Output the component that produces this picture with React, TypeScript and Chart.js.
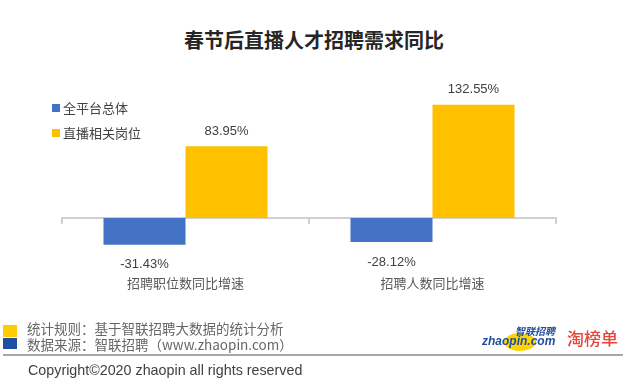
import React, { useEffect, useRef } from 'react';
import { Chart, registerables } from 'chart.js';

Chart.register(...registerables);

const titleText = '春节后直播人才招聘需求同比';
const categories = ['招聘职位数同比增速', '招聘人数同比增速'];
const seriesNames = ['全平台总体', '直播相关岗位'];
const overallValues = [-31.43, -28.12];
const liveValues = [83.95, 132.55];
const seriesColors = ['#4472C4', '#FFC000'];
const footerNotes = ['统计规则：基于智联招聘大数据的统计分析', '数据来源：智联招聘（www.zhaopin.com）'];
const footerColors = ['#FFCC00', '#1F4FA0'];
const copyrightText = 'Copyright©2020 zhaopin all rights reserved';

const valueLabelPlugin = {
  id: 'valueLabels',
  afterDatasetsDraw(chart: any) {
    const ctx = chart.ctx;
    ctx.save();
    ctx.font = '13px "Liberation Sans", Arial, sans-serif';
    ctx.fillStyle = '#404040';
    ctx.textAlign = 'center';
    ctx.textBaseline = 'middle';
    chart.data.datasets.forEach((ds: any, i: number) => {
      const meta = chart.getDatasetMeta(i);
      meta.data.forEach((el: any, j: number) => {
        const v = ds.data[j];
        const txt = v.toFixed(2) + '%';
        const y = v >= 0 ? el.y - 15 : el.y + 20;
        ctx.fillText(txt, el.x, y);
      });
    });
    ctx.restore();
  },
};

const legendPlugin = {
  id: 'insideLegend',
  afterDraw(chart: any) {
    const ctx = chart.ctx;
    ctx.save();
    ctx.font = '13px "Noto Sans CJK SC", sans-serif';
    ctx.textBaseline = 'middle';
    ctx.textAlign = 'left';
    const ys = [108, 133];
    chart.data.datasets.forEach((ds: any, i: number) => {
      const y = ys[i];
      ctx.fillStyle = ds.backgroundColor;
      ctx.fillRect(52, y - 4, 8, 8);
      ctx.fillStyle = '#404040';
      ctx.fillText(ds.label, 63, y);
    });
    ctx.restore();
  },
};

function BarChart() {
  const ref = useRef<HTMLCanvasElement | null>(null);
  useEffect(() => {
    if (!ref.current) return;
    const chart = new Chart(ref.current, {
      type: 'bar',
      data: {
        labels: categories,
        datasets: [
          { label: seriesNames[0], data: overallValues, backgroundColor: seriesColors[0] },
          { label: seriesNames[1], data: liveValues, backgroundColor: seriesColors[1] },
        ],
      },
      options: {
        animation: false,
        responsive: false,
        maintainAspectRatio: false,
        layout: { padding: { left: 62, right: 72, top: 98.3, bottom: 129.25 } },
        datasets: { bar: { categoryPercentage: 0.664, barPercentage: 1 } },
        plugins: { legend: { display: false }, tooltip: { enabled: false }, title: { display: false } },
        scales: {
          x: {
            type: 'category',
            position: { y: 0 } as any,
            grid: { drawOnChartArea: false, drawTicks: true, tickLength: 5, color: '#d0d0d0', lineWidth: 2, offset: true },
            border: { display: true, color: '#d0d0d0', width: 2 },
            ticks: { padding: 52, color: '#595959', font: { size: 13, family: '"Noto Sans CJK SC", sans-serif' } },
          },
          y: { display: false, min: -50, max: 140 },
        },
      } as any,
      plugins: [valueLabelPlugin, legendPlugin],
    });
    return () => chart.destroy();
  }, []);
  return <canvas ref={ref} width={628} height={390} style={{ position: 'absolute', left: 0, top: 0, width: 628, height: 390 }} />;
}

export default function App() {
  useEffect(() => {
    document.body.style.margin = '0';
  }, []);
  const cjk = '"Noto Sans CJK SC", sans-serif';
  return (
    <div style={{ position: 'relative', width: 628, height: 390, background: '#fff', overflow: 'hidden', fontFamily: cjk }}>
      <div style={{ position: 'absolute', left: 0, top: 27, width: 628, height: 26, lineHeight: '26px', textAlign: 'center', fontSize: 20, fontWeight: 700, color: '#262626' }}>
        {titleText}
      </div>
      <BarChart />
      {footerNotes.map((t, i) => (
        <React.Fragment key={i}>
          <div style={{ position: 'absolute', left: 3, top: i === 0 ? 325 : 338, width: 14, height: i === 0 ? 12 : 11, background: footerColors[i] }} />
          <div style={{ position: 'absolute', left: 27, top: (i === 0 ? 328 : 344) - 9, height: 18, lineHeight: '18px', fontSize: 13.5, color: '#666', whiteSpace: 'nowrap' }}>
            {t}
          </div>
        </React.Fragment>
      ))}
      <div style={{ position: 'absolute', left: 3, top: 354, width: 620, height: 2, background: '#a6a6a6' }} />
      <div style={{ position: 'absolute', left: 28, top: 361, height: 18, lineHeight: '18px', fontSize: 14.3, color: '#404040', fontFamily: '"Liberation Sans", Arial, sans-serif', whiteSpace: 'nowrap' }}>
        {copyrightText}
      </div>
      <div style={{ position: 'absolute', left: 504, top: 333, width: 32, height: 18, borderRadius: '50%', background: '#FFD400' }} />
      <div style={{ position: 'absolute', left: 515, top: 325, height: 12, lineHeight: '12px', fontSize: 10, fontWeight: 700, fontStyle: 'italic', color: '#1F4FA0', whiteSpace: 'nowrap' }}>
        智联招聘
      </div>
      <div style={{ position: 'absolute', left: 482, top: 334, height: 14, lineHeight: '14px', fontSize: 12, fontWeight: 700, fontStyle: 'italic', color: '#1F4FA0', fontFamily: '"Liberation Sans", Arial, sans-serif', whiteSpace: 'nowrap' }}>
        zhaopin.com
      </div>
      <div style={{ position: 'absolute', left: 567, top: 327, height: 22, lineHeight: '22px', fontSize: 17, fontWeight: 500, color: '#E8443A', whiteSpace: 'nowrap' }}>
        淘榜单
      </div>
    </div>
  );
}
